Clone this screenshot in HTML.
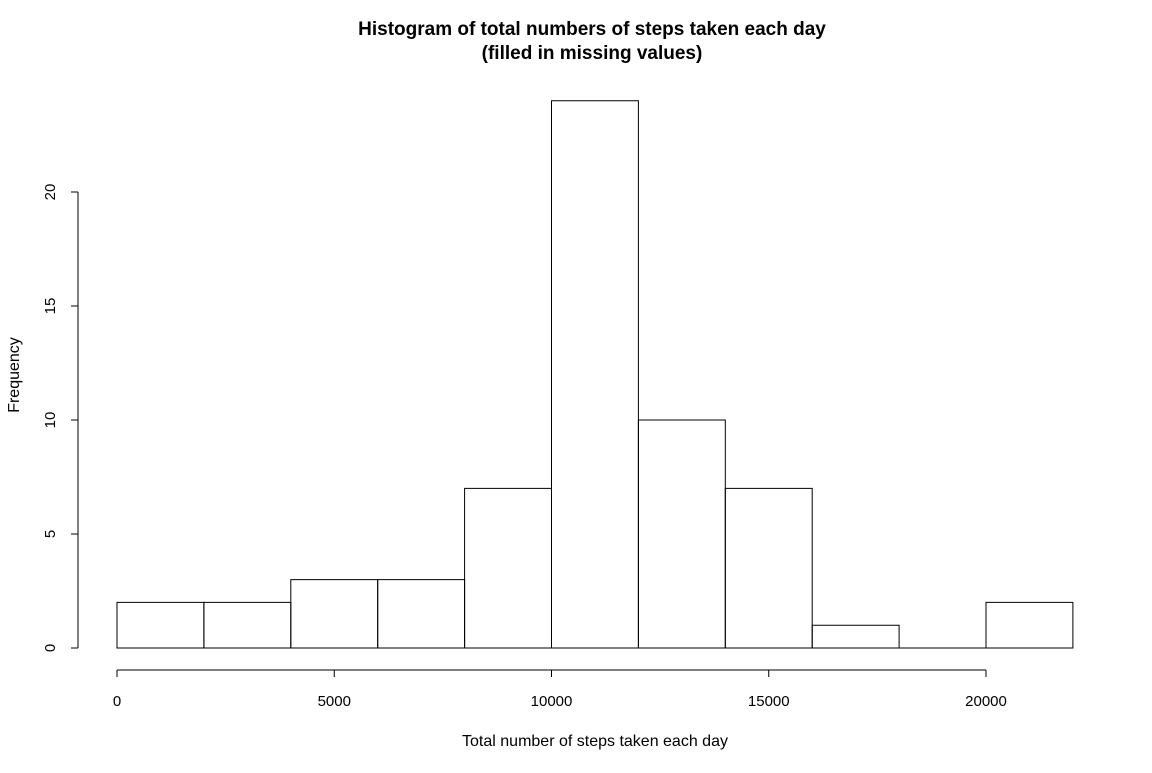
<!DOCTYPE html>
<html><head><meta charset="utf-8"><style>
body{margin:0;background:#fff}
svg text{font-family:"Liberation Sans",Arial,sans-serif;fill:#000}
</style></head><body>
<svg id="chart" width="1152" height="768" xmlns="http://www.w3.org/2000/svg">
<text x="592" y="35" font-size="19" font-weight="bold" text-anchor="middle">Histogram of total numbers of steps taken each day</text>
<text x="592" y="59" font-size="19" font-weight="bold" text-anchor="middle">(filled in missing values)</text>
<text x="595" y="746" font-size="16" text-anchor="middle">Total number of steps taken each day</text>
<text x="0" y="0" font-size="16" text-anchor="middle" transform="translate(19,375) rotate(-90)">Frequency</text>
<g id="bars"></g>
<g id="xaxis"></g>
<g id="yaxis"></g>
</svg>
<script>
const binEdges=[0,2000,4000,6000,8000,10000,12000,14000,16000,18000,20000,22000];
const counts=[2,2,3,3,7,24,10,7,1,0,2];
const xTicks=[0,5000,10000,15000,20000];
const yTicks=[0,5,10,15,20];
const NS="http://www.w3.org/2000/svg";
const x=v=>117+v*(869/20000);
const y=v=>648-v*(456/20);
function mk(tag,attrs,parent){const e=document.createElementNS(NS,tag);for(const k in attrs)e.setAttribute(k,attrs[k]);parent.appendChild(e);return e;}
const bars=document.getElementById('bars');
counts.forEach((c,i)=>{
  const x0=x(binEdges[i]),x1=x(binEdges[i+1]),y0=y(0),y1=y(c);
  const r=mk('path',{d:`M${x0},${y0}L${x0},${y1}L${x1},${y1}L${x1},${y0}Z`,fill:'none',stroke:'#000','stroke-width':1},bars);
  
  
});
const xa=document.getElementById('xaxis');
mk('line',{x1:x(xTicks[0]),x2:x(xTicks[xTicks.length-1]),y1:670,y2:670,stroke:'#000'},xa);
xTicks.forEach(t=>{
  mk('line',{x1:x(t),x2:x(t),y1:670,y2:677,stroke:'#000'},xa);
  const tx=mk('text',{x:x(t),y:706,'font-size':15,'text-anchor':'middle'},xa);
  tx.textContent=t;
  
  
});
const ya=document.getElementById('yaxis');
mk('line',{x1:78,x2:78,y1:y(yTicks[0]),y2:y(yTicks[yTicks.length-1]),stroke:'#000'},ya);
yTicks.forEach(t=>{
  mk('line',{x1:71,x2:78,y1:y(t),y2:y(t),stroke:'#000'},ya);
  const tx=mk('text',{x:0,y:0,'font-size':15,'text-anchor':'middle',transform:`translate(55,${y(t)}) rotate(-90)`},ya);
  tx.textContent=t;
  
  
});
</script>
</body></html>
